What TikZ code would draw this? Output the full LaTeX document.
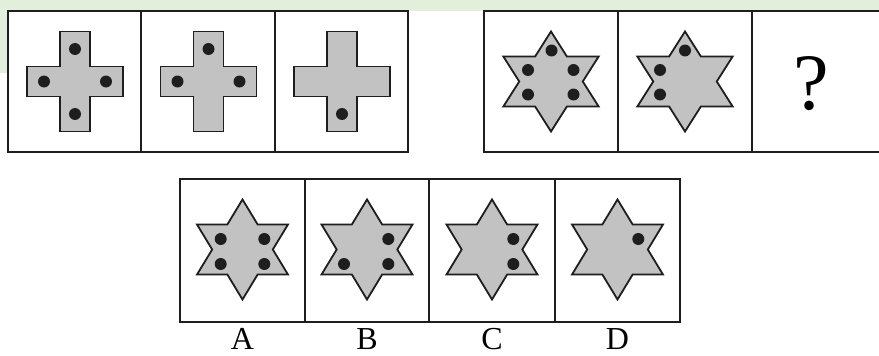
\documentclass[tikz,border=0pt]{standalone}
\usepackage{fontspec}
\setmainfont{Liberation Serif}
\definecolor{figgray}{RGB}{194,194,194}
\definecolor{bandgreen}{RGB}{226,239,218}
\definecolor{inkline}{RGB}{30,30,30}
\tikzset{
  boxline/.style={line width=2.6pt, draw=inkline},
  shapeline/.style={line width=1.8pt, draw=inkline, fill=figgray, line join=miter},
  dotfill/.style={fill=inkline},
  lettertext/.style={font=\fontsize{32}{36}\selectfont, anchor=base, inner sep=0pt},
}
\newcommand\crossfig[2]{%
  \begin{scope}[shift={(#1,#2)}]
    \draw[shapeline] (-15,-50) -- (15,-50) -- (15,-15) -- (48,-15) -- (48,15) -- (15,15) -- (15,50)
      -- (-15,50) -- (-15,15) -- (-48,15) -- (-48,-15) -- (-15,-15) -- cycle;
  \end{scope}}
\newcommand\hexstar[3]{%
  \begin{scope}[shift={(#1,#2)}, xscale=#3]
    \draw[shapeline] (90:50) -- (60:28.87) -- (30:50) -- (0:28.87) -- (-30:50) -- (-60:28.87)
      -- (-90:50) -- (-120:28.87) -- (-150:50) -- (180:28.87) -- (150:50) -- (120:28.87) -- cycle;
  \end{scope}}
\newcommand\blackdot[2]{\fill[dotfill] (#1,#2) circle[radius=6pt];}
\begin{document}
\begin{tikzpicture}[x=1pt, y=-1pt]
  \useasboundingbox (0,0) rectangle (879,356);
  \clip (0,0) rectangle (879,356);
  % green background band
  \fill[bandgreen] (0,0) rectangle (879,10.5);
  \fill[bandgreen] (0,0) rectangle (8,73);
  % ---------- top left group ----------
  \draw[boxline, fill=white] (8,11) rectangle (408,152);
  \draw[boxline] (141,11) -- (141,152);
  \draw[boxline] (275,11) -- (275,152);
  \crossfig{75}{81.5}
  \blackdot{75}{49}\blackdot{44}{81.5}\blackdot{106}{81.5}\blackdot{75}{114}
  \crossfig{208.5}{81.5}
  \blackdot{208.5}{49}\blackdot{177.5}{81.5}\blackdot{239.5}{81.5}
  \crossfig{342}{81.5}
  \blackdot{342}{114}
  % ---------- top right group ----------
  \draw[boxline, fill=white] (484,11) rectangle (886,152);
  \draw[boxline] (618,11) -- (618,152);
  \draw[boxline] (752,11) -- (752,152);
  \hexstar{551}{81.5}{1.1}
  \blackdot{551.5}{50.5}\blackdot{528}{70}\blackdot{573.5}{70}\blackdot{528}{94.5}\blackdot{573.5}{94.5}
  \hexstar{685}{81.5}{1.1}
  \blackdot{685}{50.5}\blackdot{660}{70}\blackdot{660}{94.5}
  \node[lettertext, font=\fontsize{80}{86}\selectfont] (qmark) at (811.5,109) {?};
  % ---------- bottom options ----------
  \draw[boxline, fill=white] (180,179) rectangle (680,322);
  \draw[boxline] (305,179) -- (305,322);
  \draw[boxline] (429,179) -- (429,322);
  \draw[boxline] (555,179) -- (555,322);
  \hexstar{242.5}{249.5}{1.05}
  \blackdot{220.7}{239}\blackdot{264.3}{239}\blackdot{220.7}{264}\blackdot{264.3}{264}
  \hexstar{367}{249.5}{1.05}
  \blackdot{388.3}{239}\blackdot{344}{264}\blackdot{388.3}{264}
  \hexstar{492}{249.5}{1.05}
  \blackdot{513.3}{239}\blackdot{513.3}{264}
  \hexstar{617.5}{249.5}{1.05}
  \blackdot{638.3}{239}
  \node[lettertext] (labA) at (242.5,349) {A};
  \node[lettertext] (labB) at (367,349) {B};
  \node[lettertext] (labC) at (492,349) {C};
  \node[lettertext] (labD) at (617.5,349) {D};
\end{tikzpicture}
\end{document}
